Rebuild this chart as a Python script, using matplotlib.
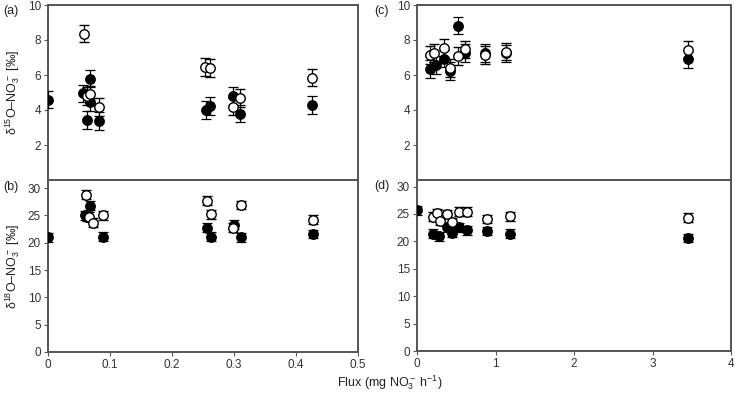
import matplotlib
matplotlib.use('Agg')
import matplotlib.pyplot as plt

plt.rcParams['font.family'] = ['Liberation Sans', 'DejaVu Sans']
plt.rcParams['mathtext.fontset'] = 'custom'
plt.rcParams['mathtext.rm'] = 'Liberation Sans'
plt.rcParams['mathtext.it'] = 'Liberation Sans:italic'

# panel (a) d15 vs flux, small range
a_fill_x = [0.0, 0.056, 0.067, 0.067, 0.063, 0.082, 0.255, 0.261, 0.298, 0.310, 0.426]
a_fill_y = [4.6, 4.95, 5.8, 4.45, 3.42, 3.38, 4.0, 4.22, 4.8, 3.8, 4.3]
a_open_x = [0.058, 0.063, 0.068, 0.082, 0.254, 0.261, 0.298, 0.310, 0.426]
a_open_y = [8.36, 4.8, 4.9, 4.18, 6.46, 6.4, 4.2, 4.7, 5.85]

# panel (b) d18 vs flux, small range
b_fill_x = [0.0, 0.059, 0.067, 0.063, 0.088, 0.257, 0.263, 0.300, 0.312, 0.428]
b_fill_y = [21.0, 25.0, 26.8, 24.8, 21.1, 22.8, 21.1, 23.3, 21.0, 21.6]
b_open_x = [0.061, 0.066, 0.073, 0.088, 0.257, 0.263, 0.299, 0.312, 0.428]
b_open_y = [28.8, 24.8, 23.7, 25.0, 27.7, 25.2, 22.8, 26.9, 24.2]

# panel (c) d15 vs flux, large range
c_fill_x = [0.16, 0.24, 0.35, 0.42, 0.52, 0.61, 0.86, 1.14, 3.45]
c_fill_y = [6.34, 6.56, 6.93, 6.24, 8.82, 7.27, 7.27, 7.23, 6.9]
c_open_x = [0.16, 0.22, 0.35, 0.42, 0.52, 0.61, 0.86, 1.14, 3.45]
c_open_y = [7.14, 7.27, 7.55, 6.4, 7.08, 7.46, 7.14, 7.33, 7.42]

# panel (d) d18 vs flux, large range
d_fill_x = [0.0, 0.2, 0.28, 0.38, 0.45, 0.54, 0.64, 0.89, 1.18, 3.45]
d_fill_y = [25.7, 21.4, 20.9, 22.6, 21.55, 22.6, 22.0, 21.9, 21.4, 20.6]
d_open_x = [0.2, 0.25, 0.29, 0.38, 0.45, 0.54, 0.64, 0.89, 1.18, 3.45]
d_open_y = [24.5, 25.1, 23.7, 25.0, 23.5, 25.4, 25.4, 24.1, 24.6, 24.3]

W, H = 735, 395
fig = plt.figure(figsize=(W / 100, H / 100), dpi=100)

def box(l, t, r, b):
    return [l / W, (H - b) / H, (r - l) / W, (b - t) / H]

def style(ax):
    for s in ax.spines.values():
        s.set_color('#555555')
        s.set_linewidth(1.4)
    ax.tick_params(direction='out', length=3, width=0.8, color='#555555',
                   labelcolor='#333333', labelsize=8.5, pad=2)

def points(ax, fx, fy, ox, oy, err):
    ax.errorbar(fx, fy, yerr=err, fmt='o', color='black', mfc='black', mec='black',
                ms=6.8, capsize=3.5, elinewidth=0.9, capthick=0.9, zorder=3)
    ax.errorbar(ox, oy, yerr=err, fmt='o', color='black', mfc='white', mec='black',
                ms=6.8, mew=1.0, capsize=3.5, elinewidth=0.9, capthick=0.9, zorder=4)

ax_a = fig.add_axes(box(48, 5, 358, 180))
ax_b = fig.add_axes(box(48, 180, 358, 352))
ax_c = fig.add_axes(box(417, 5, 731, 180))
ax_d = fig.add_axes(box(417, 180, 731, 351))

points(ax_a, a_fill_x, a_fill_y, a_open_x, a_open_y, 0.5)
points(ax_b, b_fill_x, b_fill_y, b_open_x, b_open_y, 0.8)
points(ax_c, c_fill_x, c_fill_y, c_open_x, c_open_y, 0.5)
points(ax_d, d_fill_x, d_fill_y, d_open_x, d_open_y, 0.8)

for ax in (ax_a, ax_b):
    ax.set_xlim(0, 0.5)
for ax in (ax_c, ax_d):
    ax.set_xlim(0, 4)
for ax in (ax_a, ax_c):
    ax.set_ylim(0, 10)
    ax.set_yticks([2, 4, 6, 8, 10])
    ax.set_xticks([])
ax_b.set_ylim(0, 31.5)
ax_d.set_ylim(0, 31.2)
for ax in (ax_b, ax_d):
    ax.set_yticks([0, 5, 10, 15, 20, 25, 30])
ax_b.set_xticks([0, 0.1, 0.2, 0.3, 0.4, 0.5])
ax_b.set_xticklabels(['0', '0.1', '0.2', '0.3', '0.4', '0.5'])
ax_d.set_xticks([0, 1, 2, 3, 4])

for ax in (ax_a, ax_b, ax_c, ax_d):
    style(ax)

ax_a.set_ylabel(r'δ$^{15}$O–NO$_3^-$ [‰]', fontsize=9, color='#222222', labelpad=4)
ax_b.set_ylabel(r'δ$^{18}$O–NO$_3^-$ [‰]', fontsize=9, color='#222222', labelpad=4)

fig.text(3 / W, 1 - 11 / H, '(a)', fontsize=9, va='center', color='#222222')
fig.text(3 / W, 1 - 187 / H, '(b)', fontsize=9, va='center', color='#222222')
fig.text(374 / W, 1 - 11 / H, '(c)', fontsize=9, va='center', color='#222222')
fig.text(374 / W, 1 - 186 / H, '(d)', fontsize=9, va='center', color='#222222')
fig.text(390 / W, 1 - 383 / H, r'Flux (mg NO$_3^-$ h$^{-1}$)', fontsize=9,
         ha='center', va='center', color='#222222')

fig.savefig('out.png', dpi=100)
